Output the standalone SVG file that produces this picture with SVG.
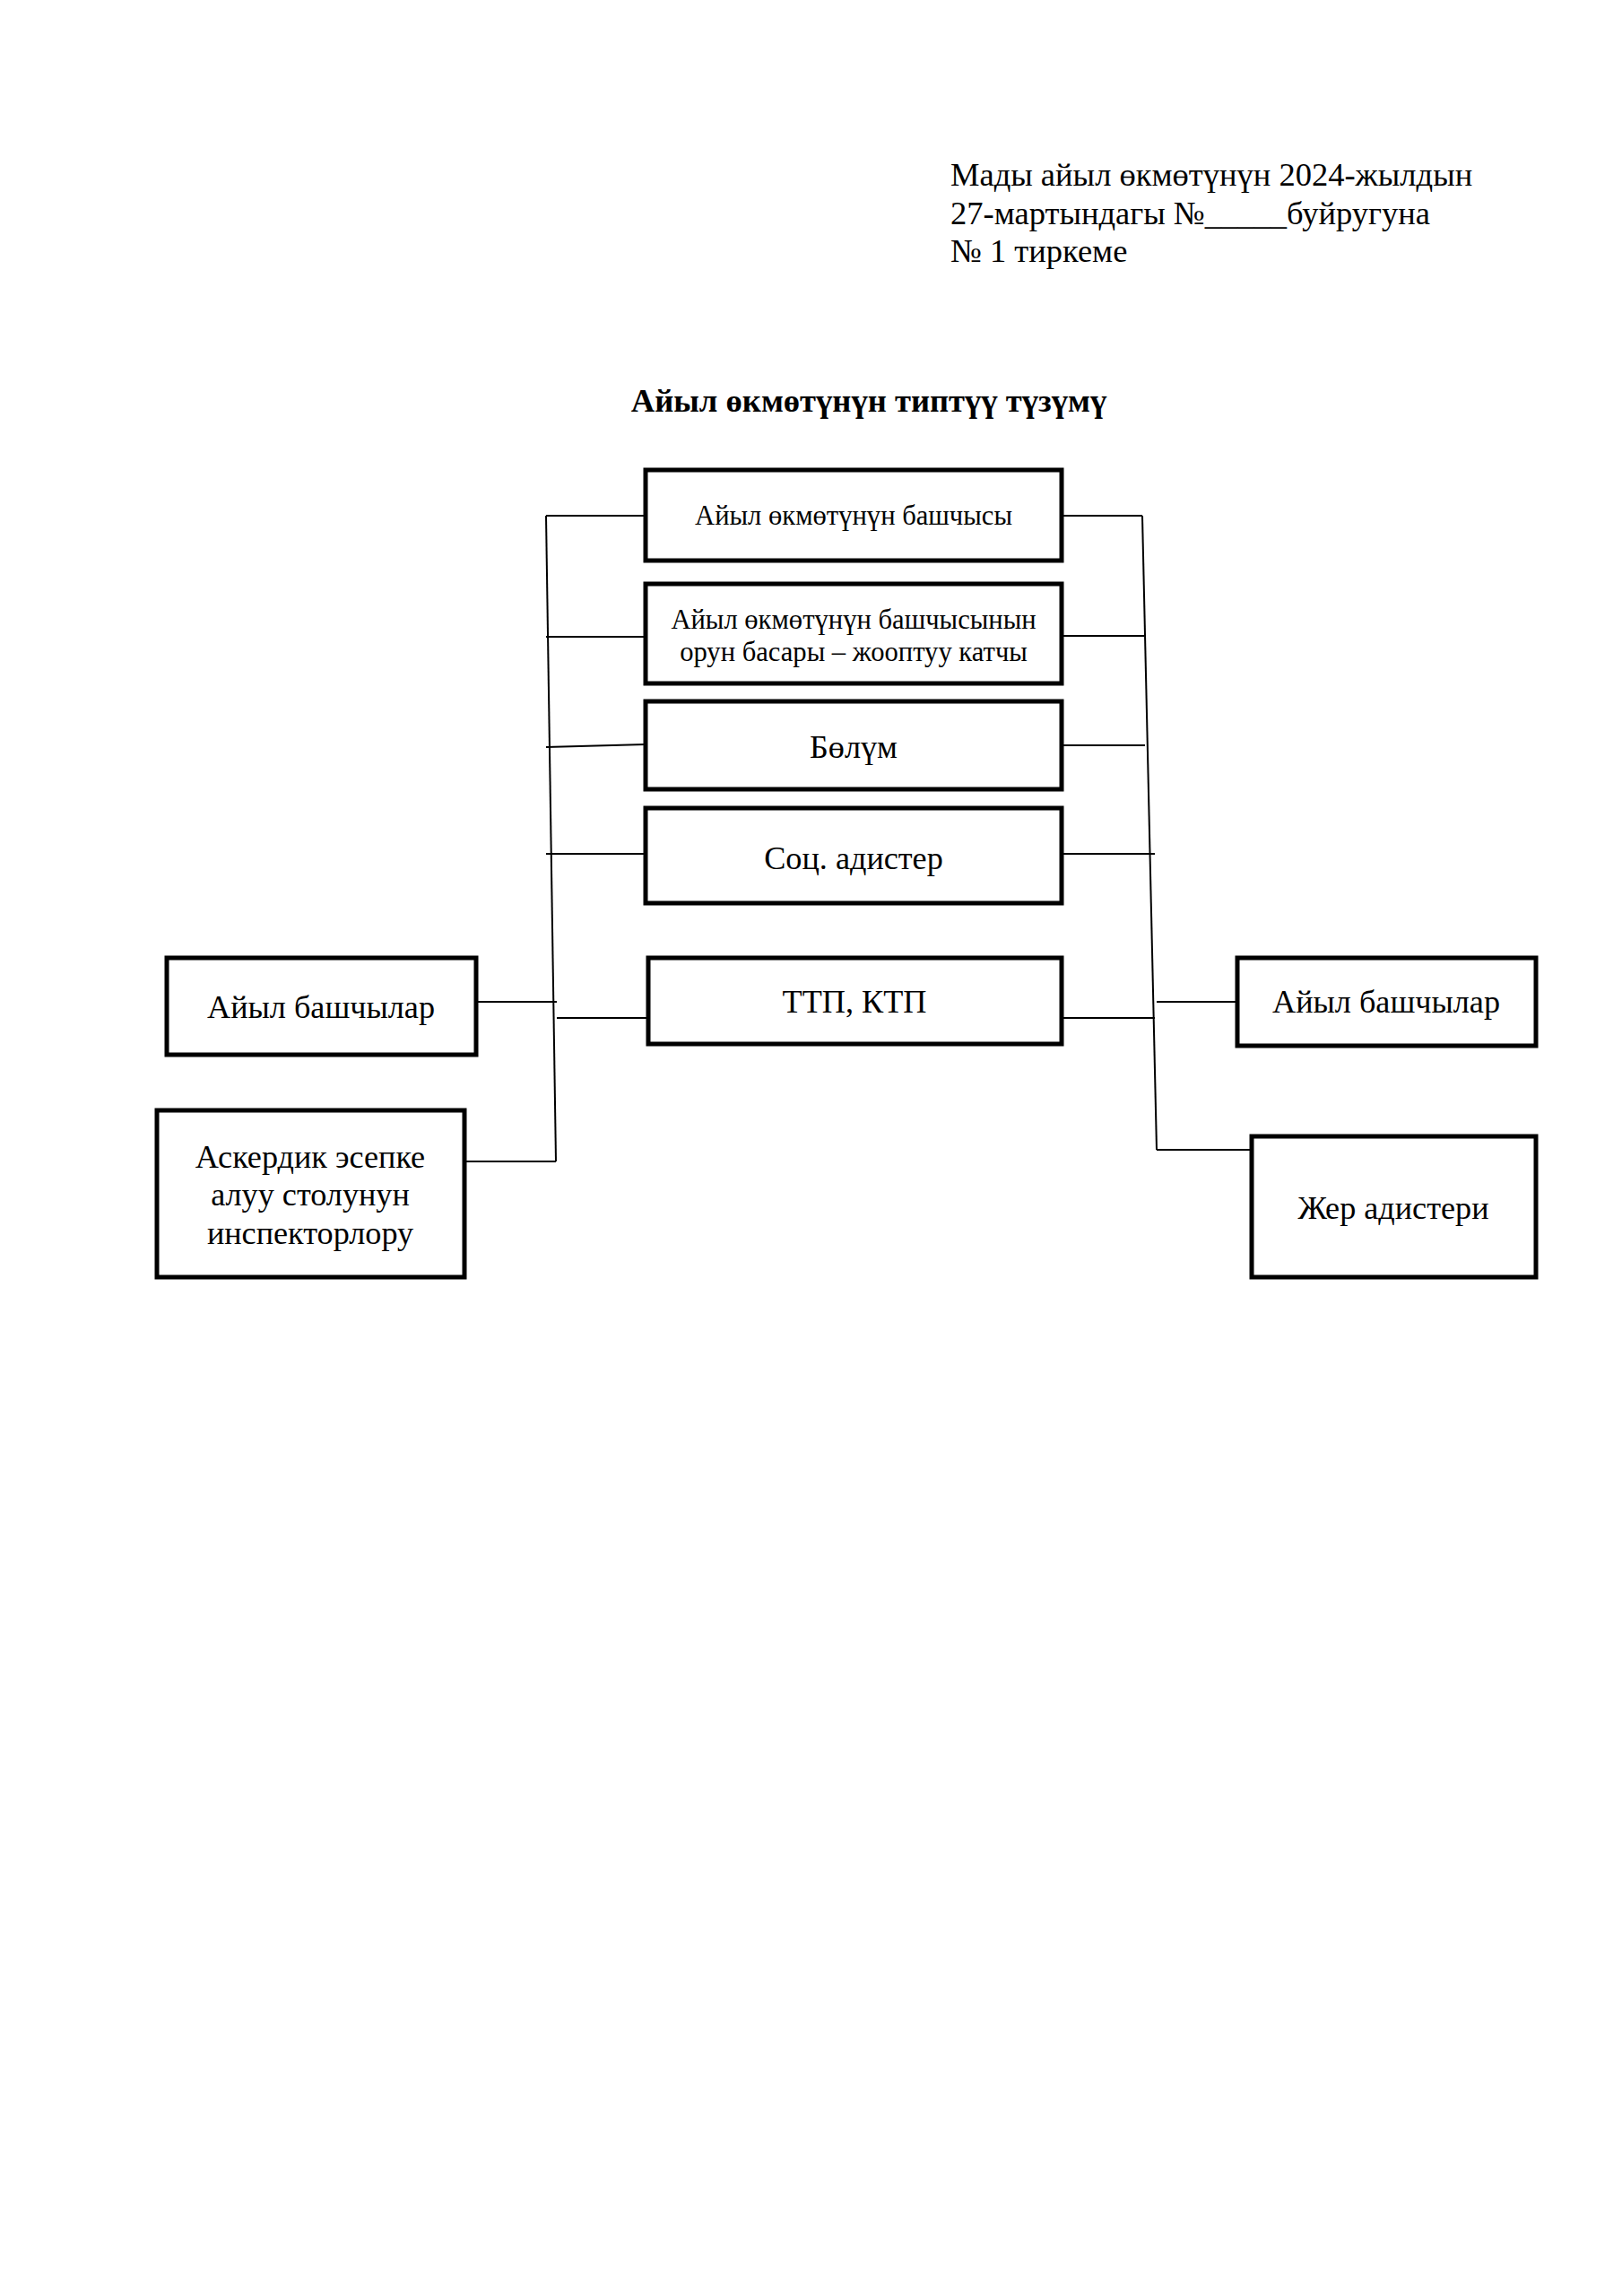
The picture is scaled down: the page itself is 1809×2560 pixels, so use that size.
<svg xmlns="http://www.w3.org/2000/svg" width="1809" height="2560" viewBox="0 0 1809 2560">
<style>
text{font-family:"Liberation Serif","Times New Roman",serif;fill:#000}
.hd{font-size:36.5px}
.tt{font-size:36.6px;font-weight:bold}
.s{font-size:30.6px}
.m{font-size:36.2px}
.box{fill:#fff;stroke:#000;stroke-width:5}
.ln{stroke:#000;stroke-width:2;fill:none}
</style>
<rect width="1809" height="2560" fill="#fff"/>
<g id="header">
<text class="hd" x="1060" y="207">Мады айыл өкмөтүнүн 2024-жылдын</text>
<text class="hd" x="1060" y="250">27-мартындагы №_____буйругуна</text>
<text class="hd" x="1060" y="292">№ 1 тиркеме</text>
</g>
<g id="title"><text class="tt" x="969" y="459" text-anchor="middle">Айыл өкмөтүнүн типтүү түзүмү</text></g>
<g id="connectors">
<path class="ln" d="M609 575 L620 1295"/>
<path class="ln" d="M609 575 H720 M609 710 H720 M609 833 L720 830 M609 952 H720"/>
<path class="ln" d="M531 1117 H621 M621 1135 H723 M518 1295 H620"/>
<path class="ln" d="M1274 575 L1290 1282"/>
<path class="ln" d="M1184 575 H1274 M1184 709 H1276 M1184 831 H1277 M1184 952 H1288"/>
<path class="ln" d="M1184 1135 H1288 M1290 1117 H1380 M1290 1282 H1396"/>
</g>
<g id="n1"><rect class="box" x="720" y="524" width="464" height="101"/><text class="s" x="952" y="585" text-anchor="middle">Айыл өкмөтүнүн башчысы</text></g>
<g id="n2"><rect class="box" x="720" y="651" width="464" height="111"/><text class="s" x="952" y="701" text-anchor="middle">Айыл өкмөтүнүн башчысынын</text><text class="s" x="952" y="737" text-anchor="middle">орун басары – жооптуу катчы</text></g>
<g id="n3"><rect class="box" x="720" y="782" width="464" height="98"/><text class="m" x="952" y="845" text-anchor="middle">Бөлүм</text></g>
<g id="n4"><rect class="box" x="720" y="901" width="464" height="106"/><text class="m" x="952" y="969" text-anchor="middle">Соц. адистер</text></g>
<g id="n5"><rect class="box" x="723" y="1068" width="461" height="96"/><text class="m" x="953" y="1129" text-anchor="middle">ТТП, КТП</text></g>
<g id="n6"><rect class="box" x="186" y="1068" width="345" height="108"/><text class="m" x="358" y="1135" text-anchor="middle">Айыл башчылар</text></g>
<g id="n7"><rect class="box" x="175" y="1238" width="343" height="186"/><text class="m" x="346" y="1302" text-anchor="middle">Аскердик эсепке</text><text class="m" x="346" y="1344" text-anchor="middle">алуу столунун</text><text class="m" x="346" y="1387" text-anchor="middle">инспекторлору</text></g>
<g id="n8"><rect class="box" x="1380" y="1068" width="333" height="98"/><text class="m" x="1546" y="1129" text-anchor="middle">Айыл башчылар</text></g>
<g id="n9"><rect class="box" x="1396" y="1267" width="317" height="157"/><text class="m" x="1554" y="1359" text-anchor="middle">Жер адистери</text></g>
</svg>
